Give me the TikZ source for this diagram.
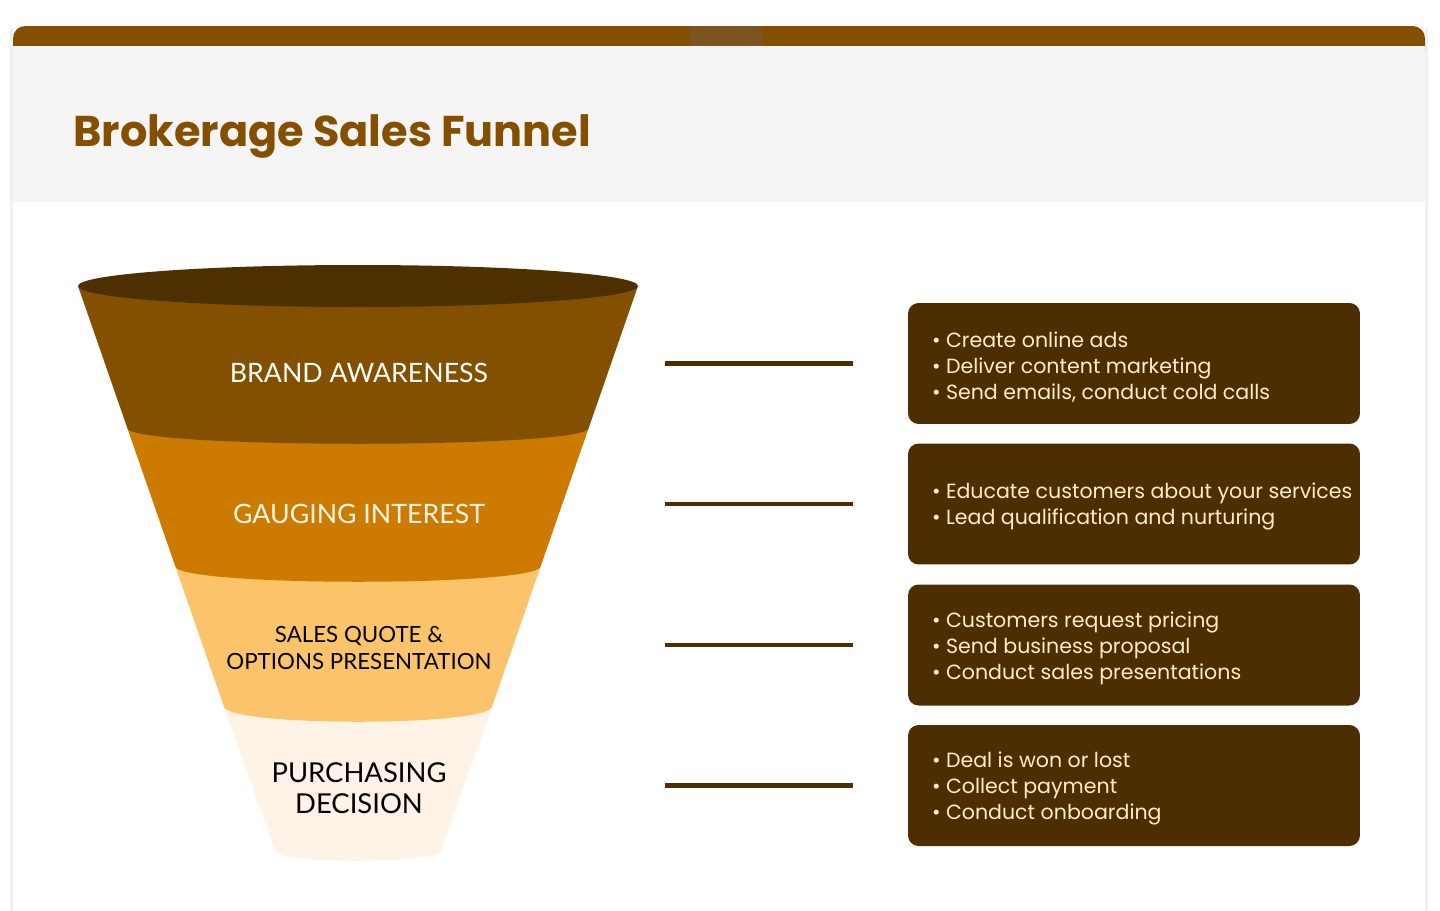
\documentclass[tikz,border=0pt]{standalone}
\usepackage{fontspec}
\setmainfont{Poppins}
\newfontfamily\labfont{Lato}
\definecolor{barbrown}{RGB}{132,80,0}
\definecolor{barmark}{RGB}{123,84,34}
\definecolor{headgray}{RGB}{245,245,245}
\definecolor{topbrown}{RGB}{78,47,0}
\definecolor{bandA}{RGB}{131,80,0}
\definecolor{bandB}{RGB}{204,122,0}
\definecolor{bandC}{RGB}{251,196,106}
\definecolor{bandD}{RGB}{254,243,230}
\definecolor{boxbrown}{RGB}{77,46,0}
\definecolor{boxtext}{RGB}{255,236,200}
\definecolor{labcream}{RGB}{255,246,228}
\begin{document}
\begin{tikzpicture}[x=0.02cm, y=-0.02cm, line join=round, line cap=round,
	stepbox/.style={fill=boxbrown, rounded corners=6pt, minimum width=9.04cm, minimum height=2.42cm},
	steptext/.style={anchor=west, inner sep=0pt, align=left, text=boxtext, font=\fontsize{11.7}{14.8}\selectfont},
	bandlab/.style={align=center, font=\labfont\fontsize{15.2}{18}\selectfont},
	link/.style={draw=topbrown, line width=2.3pt, line cap=butt}]
	\useasboundingbox (0,0) rectangle (1440,910);
	% card and header
	\fill[black!6] (10,28) rectangle (1428,930);
	\fill[white] (13,26) rectangle (1425,930);
	\fill[barbrown, rounded corners=7pt] (13,26) rectangle (1425,62);
	\fill[barmark] (690,26) rectangle (762,46);
	\fill[headgray] (13,46) rectangle (1425,202);
	\node[anchor=base west, inner sep=0pt, text=barbrown, font=\bfseries\fontsize{24.5}{30}\selectfont] (title) at (73,146) {Brokerage Sales Funnel};
	% funnel, bottom band first
	\fill[bandD] (223.7,706) -- (275.4,851) .. controls (279,864) and (437,864) .. (440.6,851) -- (492.3,706) -- cycle;
	\fill[bandC] (175.2,566) -- (223.7,706) .. controls (223.7,727) and (492.3,727) .. (492.3,706) -- (540.8,566) -- cycle;
	\fill[bandB] (127.3,428) -- (175.2,566) .. controls (175.2,587) and (540.8,587) .. (540.8,566) -- (588.7,428) -- cycle;
	\fill[bandA] (78,286) -- (127.3,428) .. controls (127.3,449) and (588.7,449) .. (588.7,428) -- (638,286) -- cycle;
	\fill[topbrown] (358,286) ellipse [x radius=280, y radius=21];
	\node[bandlab, text=white] (lab1) at (359,373) {BRAND AWARENESS};
	\node[bandlab, text=labcream] (lab2) at (359,514) {GAUGING INTEREST};
	\node[bandlab, font=\labfont\fontsize{12.7}{15.4}\selectfont] (lab3) at (359,648) {SALES QUOTE \&\\OPTIONS PRESENTATION};
	\node[bandlab, font=\labfont\fontsize{15.6}{17.6}\selectfont] (lab4) at (359,788) {PURCHASING\\DECISION};
	% steps
	\foreach \n/\yc in {1/363.5, 2/504, 3/645, 4/785.5}
		\node[stepbox] (box\n) at (1134,\yc) {};
	\node[steptext] (txt1) at ([xshift=0.48cm, yshift=-0.08cm]box1.west) {• Create online ads\\• Deliver content marketing\\• Send emails, conduct cold calls};
	\node[steptext] (txt2) at ([xshift=0.48cm, yshift=-0.04cm]box2.west) {• Educate customers about your services\\• Lead qualification and nurturing};
	\node[steptext] (txt3) at ([xshift=0.48cm, yshift=-0.07cm]box3.west) {• Customers request pricing\\• Send business proposal\\• Conduct sales presentations};
	\node[steptext] (txt4) at ([xshift=0.48cm, yshift=-0.05cm]box4.west) {• Deal is won or lost\\• Collect payment\\• Conduct onboarding};
	\foreach \n in {1,...,4} {
		\path (box\n.west) ++(-243,0) coordinate (a\n) ++(188,0) coordinate (b\n);
		\draw[link] (a\n) -- (b\n);
	}
\end{tikzpicture}
\end{document}
